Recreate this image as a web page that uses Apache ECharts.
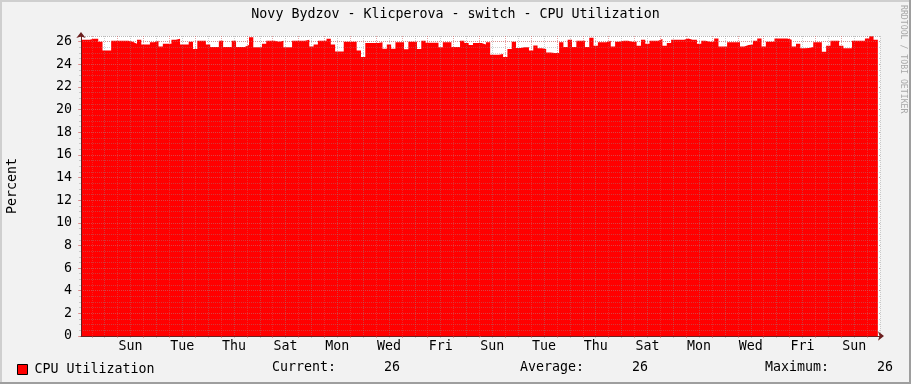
<!DOCTYPE html>
<html>
<head>
<meta charset="utf-8">
<script src="https://cdn.jsdelivr.net/npm/echarts@6/dist/echarts.min.js"></script>
<style>html,body{margin:0;padding:0;background:#F2F2F2;}#c{width:911px;height:384px;}</style>
</head>
<body>
<div id="c"></div>
<script>
// ---- data ----
const titleText = 'Novy Bydzov - Klicperova - switch - CPU Utilization';
const seriesName = 'CPU Utilization';
const yName = 'Percent';
const dayNames = ['Sat', 'Sun', 'Mon', 'Tue', 'Wed', 'Thu', 'Fri']; // day 0 = Saturday
const startHour = -10;   // first sample, hours relative to first midnight
const stepHours = 4;     // sample spacing
const axisEndHour = 732;
const cpu = [
  26.17, 26.17, 26.17, 26.25, 26.25, 26.00, 25.23, 25.23, 26.08, 26.08,
  26.08, 26.08, 25.99, 25.82, 26.17, 25.76, 25.76, 25.94, 26.08, 25.58,
  25.82, 25.82, 26.17, 26.26, 25.76, 25.76, 25.99, 25.35, 26.08, 26.08,
  25.76, 25.53, 25.53, 26.08, 25.53, 25.53, 26.08, 25.53, 25.53, 25.70,
  26.38, 25.50, 25.50, 25.82, 26.08, 26.08, 25.99, 26.08, 25.50, 25.50,
  26.08, 26.08, 26.08, 26.17, 25.58, 25.76, 26.08, 26.08, 26.26, 25.76,
  25.14, 25.14, 25.99, 25.99, 25.99, 25.23, 24.64, 25.88, 25.88, 25.88,
  25.94, 25.38, 25.76, 25.38, 25.95, 25.95, 25.32, 26.00, 26.00, 25.35,
  26.08, 25.90, 25.90, 25.90, 25.50, 25.94, 25.94, 25.53, 25.53, 26.08,
  25.88, 25.70, 25.88, 25.88, 25.76, 25.94, 24.85, 24.85, 24.90, 24.64,
  25.35, 25.99, 25.44, 25.50, 25.50, 25.23, 25.67, 25.41, 25.35, 25.05,
  25.00, 25.00, 25.94, 25.53, 26.17, 25.53, 26.08, 26.08, 25.53, 26.35,
  25.64, 25.94, 25.94, 26.08, 25.58, 25.99, 26.08, 26.08, 25.99, 25.99,
  25.64, 26.17, 25.82, 26.08, 26.08, 26.23, 25.64, 25.88, 26.17, 26.17,
  26.17, 26.29, 26.17, 26.17, 25.82, 26.08, 25.99, 25.99, 26.29, 25.58,
  25.58, 25.94, 25.94, 25.94, 25.58, 25.70, 25.76, 26.08, 26.29, 25.58,
  25.99, 25.99, 26.29, 26.29, 26.29, 26.17, 25.58, 25.82, 25.41, 25.44,
  25.53, 25.94, 25.94, 25.11, 25.64, 26.08, 26.08, 25.64, 25.41, 25.41,
  26.08, 26.08, 26.08, 26.29, 26.48, 26.17
];
const statLabels = ['Current:', 'Average:', 'Maximum:'];

// ---- build ----
const MONO = 'DejaVu Sans Mono';
const FS = 13.3;
const hourCats = [];
for (let h = startHour; h <= axisEndHour; h++) hourCats.push(String(h));
const seriesData = cpu.map((v, i) => [startHour + i * stepHours, v]);

const cur = cpu[cpu.length - 1];
const avg = cpu.reduce((a, b) => a + b, 0) / cpu.length;
const mx = Math.max.apply(null, cpu);
const pad8 = v => String(Math.round(v)).padStart(8, ' ');
const statValues = [cur, avg, mx];

const MAJOR = 'rgba(222,79,79,0.5)';
const MINOR = 'rgba(143,143,143,0.4)';
const AXIS = '#6b1f1f';

const isMidnight = (idx, val) => Number(val) % 24 === 0;
const isNoon = (idx, val) => ((Number(val) % 24) + 24) % 24 === 12;
const isLabel = (idx, val) => { const h = Number(val); return h >= 36 && (h - 36) % 48 === 0; };

const chart = echarts.init(document.getElementById('c'), null, {renderer: 'canvas'});
const yMajorColors = [];
for (let i = 0; i < 14; i++) yMajorColors.push(MAJOR);
yMajorColors.push(MINOR);

chart.setOption({
  animation: false,
  backgroundColor: '#F2F2F2',
  title: {
    text: titleText, left: 'center', top: 8, padding: 0,
    textStyle: {fontFamily: MONO, fontSize: FS, fontWeight: 'normal', color: '#000'}
  },
  legend: {
    data: [seriesName], left: 17, top: 363, padding: 0, icon: 'rect', itemWidth: 10, itemHeight: 10,
    itemStyle: {borderColor: '#000', borderWidth: 1},
    textStyle: {fontFamily: MONO, fontSize: FS, color: '#000', padding: [0, 0, 0, 2]}
  },
  grid: {left: 81, top: 36, width: 799, height: 300, show: true, backgroundColor: '#FFFFFF', borderWidth: 0,
    outerBoundsMode: 'none', containLabel: false},
  xAxis: [
    {
      type: 'category', data: hourCats, boundaryGap: false, position: 'bottom', z: 4,
      axisLine: {show: true, onZero: false, symbol: ['none', 'arrow'], symbolSize: [7, 6], symbolOffset: [0, 4], lineStyle: {color: AXIS, width: 1}},
      axisTick: {show: true, interval: isMidnight, length: 2, lineStyle: {color: MAJOR}},
      axisLabel: {show: true, interval: isLabel, margin: 4, fontFamily: MONO, fontSize: FS, color: '#000',
        formatter: v => dayNames[Math.floor(Number(v) / 24) % 7]},
      splitLine: {show: true, interval: isMidnight, lineStyle: {color: MAJOR, type: [1, 1], width: 1}}
    },
    {
      type: 'category', data: hourCats, boundaryGap: false, position: 'bottom', z: 3,
      axisLine: {show: false, onZero: false},
      axisTick: {show: true, interval: isNoon, length: 2, lineStyle: {color: MINOR}},
      axisLabel: {show: false},
      splitLine: {show: true, interval: isNoon, lineStyle: {color: MINOR, type: [1, 1], width: 1}}
    },
    {
      type: 'value', min: startHour, max: axisEndHour, show: false, axisLine: {onZero: false}
    }
  ],
  yAxis: [
    {
      type: 'value', min: 0, max: 26.5, interval: 2, position: 'left', z: 4,
      name: yName, nameLocation: 'middle', nameGap: 62, nameRotate: 90,
      nameTextStyle: {fontFamily: MONO, fontSize: FS, color: '#000'},
      axisLine: {show: true, onZero: false, symbol: ['none', 'arrow'], symbolSize: [7, 6], symbolOffset: [0, 4], lineStyle: {color: AXIS, width: 1}},
      axisTick: {show: true, length: 3, lineStyle: {color: MAJOR}},
      axisLabel: {margin: 9, fontFamily: MONO, fontSize: FS, color: '#000', formatter: v => (v % 2 === 0 ? String(v) : '')},
      splitLine: {show: true, lineStyle: {color: yMajorColors, type: [1, 1], width: 1}}
    },
    {
      type: 'value', min: 0, max: 26.5, interval: 0.5, position: 'left', z: 3,
      axisLine: {show: false, onZero: false},
      axisTick: {show: true, length: 2, lineStyle: {color: MINOR}},
      axisLabel: {show: false},
      splitLine: {show: true, lineStyle: {color: MINOR, type: [1, 1], width: 1}}
    }
  ],
  series: [{
    name: seriesName, type: 'line', xAxisIndex: 2, yAxisIndex: 0, step: 'start',
    data: seriesData, showSymbol: false, symbol: 'none', color: '#FF0000',
    lineStyle: {width: 0, color: '#FF0000'},
    areaStyle: {color: '#FF0000', opacity: 1}, z: 2
  }],
  graphic: [
    {type: 'rect', shape: {x: 0, y: 0, width: 911, height: 2}, style: {fill: '#CFCFCF'}, silent: true},
    {type: 'rect', shape: {x: 0, y: 0, width: 2, height: 384}, style: {fill: '#CFCFCF'}, silent: true},
    {type: 'rect', shape: {x: 909, y: 0, width: 2, height: 384}, style: {fill: '#9E9E9E'}, silent: true},
    {type: 'rect', shape: {x: 0, y: 382, width: 911, height: 2}, style: {fill: '#9E9E9E'}, silent: true},
    {type: 'text', x: 903, y: 5, rotation: -Math.PI / 2,
      style: {text: 'RRDTOOL / TOBI OETIKER', fontFamily: MONO, fontSize: 8.2, fill: '#A8A8A8', align: 'left', verticalAlign: 'middle'}},
    {type: 'text', x: 272, y: 368, style: {text: statLabels[0] + pad8(statValues[0]), fontFamily: MONO, fontSize: FS, fill: '#000', verticalAlign: 'middle'}},
    {type: 'text', x: 520, y: 368, style: {text: statLabels[1] + pad8(statValues[1]), fontFamily: MONO, fontSize: FS, fill: '#000', verticalAlign: 'middle'}},
    {type: 'text', x: 765, y: 368, style: {text: statLabels[2] + pad8(statValues[2]), fontFamily: MONO, fontSize: FS, fill: '#000', verticalAlign: 'middle'}}
  ]
});
</script>
</body>
</html>
